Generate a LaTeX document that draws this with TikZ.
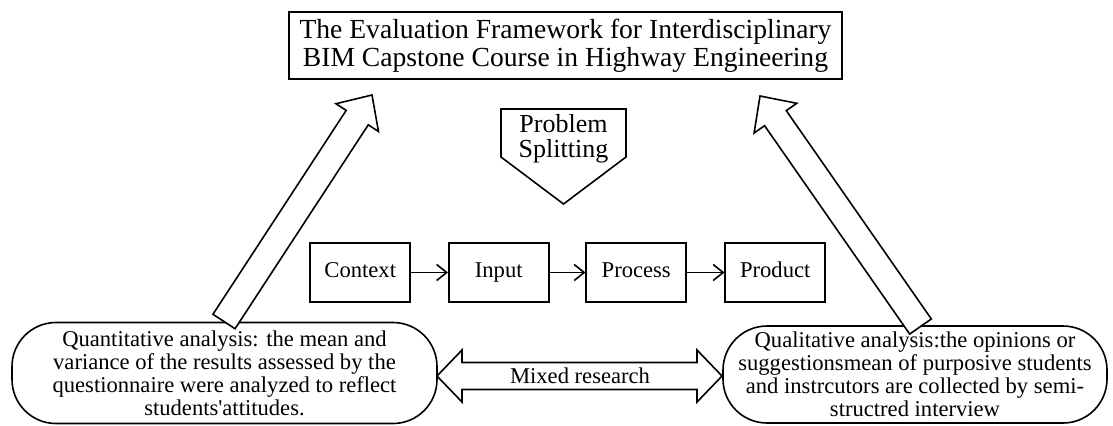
\documentclass[tikz,border=0pt]{standalone}
\usepackage{fontspec}
\setmainfont{Liberation Serif}[Ligatures=TeXOff]
\usetikzlibrary{calc,arrows.meta}
\newcommand{\myblockarrow}[6]{%
  \coordinate (#6b) at ($(#2)!#5!(#1)$);
  \draw[blk] ($(#1)!#3!90:(#2)$) -- ($(#6b)!#3!-90:(#1)$) -- ($(#6b)!#4!-90:(#1)$) -- (#2)
    -- ($(#6b)!#4!90:(#1)$) -- ($(#6b)!#3!90:(#1)$) -- ($(#1)!#3!-90:(#2)$) -- cycle;
}
\begin{document}
\begin{tikzpicture}[x=0.5pt,y=-0.5pt, line width=0.8pt,
  box/.style={draw, rectangle, inner sep=0pt, align=center, font=\fontsize{11.3pt}{11.5pt}\selectfont},
  stagebox/.style={box, minimum width=50pt, minimum height=29.5pt, text height=7.8pt, text depth=2.4pt},
  roundbox/.style={box, rounded corners=22pt},
  blk/.style={draw, fill=white, line join=miter},
  flow/.style={-{Straight Barb[length=5pt,width=8pt]}}]
\useasboundingbox (0,0) rectangle (1113,425);

\node[box, minimum width=276.5pt, minimum height=33.5pt, font=\fontsize{13.8pt}{14pt}\selectfont] (title) at (565.5,45.5)
  {The Evaluation Framework for Interdisciplinary\\BIM Capstone Course in Highway Engineering};

\node[align=center, inner sep=0pt, font=\fontsize{13pt}{12.4pt}\selectfont] (split) at (563.5,139) {Problem\\Splitting};
\draw (501,109) -- (626,109) -- (626,157) -- (563.5,204) -- (501,157) -- cycle;

\node[stagebox] (ctx) at (360.25,272.5) {Context};
\node[stagebox] (inp) at (498.75,272.5) {Input};
\node[stagebox] (proc) at (636.25,272.5) {Process};
\node[stagebox] (prod) at (775.25,272.5) {Product};
\draw[flow] (ctx) -- (inp);
\draw[flow] (inp) -- (proc);
\draw[flow] (proc) -- (prod);

\node[roundbox, minimum width=212.5pt, minimum height=50.5pt] (quan) at (224.5,373)
  {Quantitative analysis: the mean and\\variance of the results assessed by the\\questionnaire were analyzed to reflect\\students'attitudes.};
\node[roundbox, minimum width=192pt, minimum height=48.5pt] (qual) at (915,374.5)
  {Qualitative analysis:the opinions or\\suggestionsmean of purposive students\\and instrcutors are collected by semi-\\structred interview};

\coordinate (qtail) at (224,321.5);
\coordinate (qtip) at (372,95);
\coordinate (ltail) at (920.5,326.5);
\coordinate (ltip) at (760,96);
\myblockarrow{qtail}{qtip}{6.6pt}{12.7pt}{13.5pt}{qa}
\myblockarrow{ltail}{ltip}{6.6pt}{13pt}{13.5pt}{la}

\coordinate (ml) at (437,376);
\coordinate (mr) at (722,376);
\draw[blk] (ml) -- ++(25,-26) -- ++(0,12.5) -- ($(mr)+(-25,-13.5)$) -- ++(0,-12.5) -- (mr)
  -- ++(-25,26) -- ++(0,-12.5) -- ($(ml)+(25,13.5)$) -- ++(0,12.5) -- cycle;
\node[inner sep=0pt, font=\fontsize{11.3pt}{11.5pt}\selectfont] (mixed) at (580,376) {Mixed research};
\end{tikzpicture}
\end{document}
